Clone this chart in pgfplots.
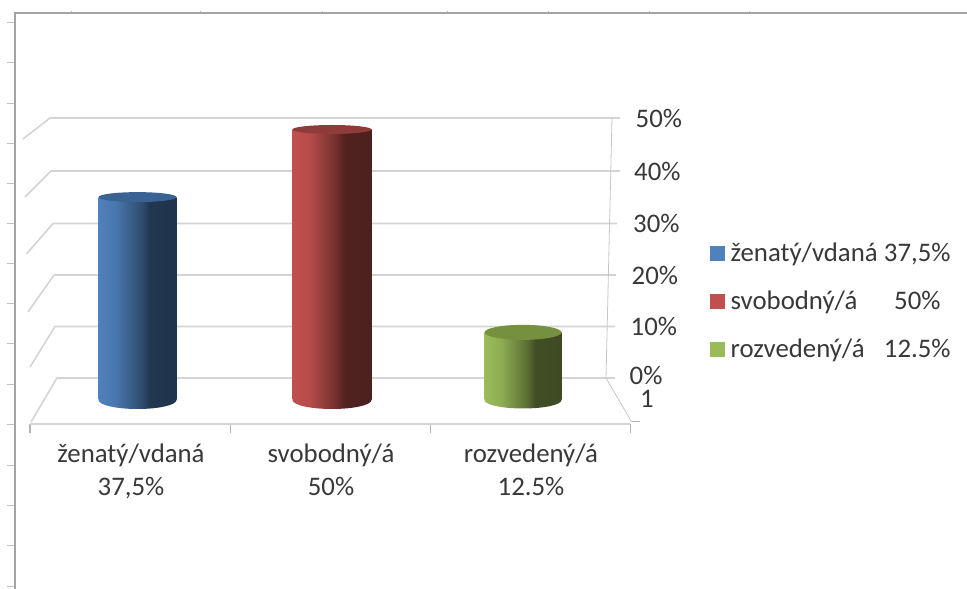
\documentclass[border=0pt]{standalone}
\usepackage{pgfplots}
\pgfplotsset{compat=1.18}
\usepackage{fontspec}
\setmainfont{Carlito}

\definecolor{wallgrid}{HTML}{D4D4D4}
\definecolor{framegray}{HTML}{A4A4A4}
\definecolor{rulergray}{HTML}{C0C0C0}
\definecolor{labeltext}{HTML}{383838}
\definecolor{swatchblue}{HTML}{4F81BD}
\definecolor{swatchred}{HTML}{C0504D}
\definecolor{swatchgreen}{HTML}{9BBB59}
\definecolor{capblue}{HTML}{3A6393}
\definecolor{capred}{HTML}{8E3B3A}
\definecolor{capgreen}{HTML}{75903F}

% Cylinder bodies: TikZ maps the path's width onto 25bp..75bp of these shadings
\pgfdeclarehorizontalshading{cylblue}{100bp}{
  color(0bp)=(swatchblue); color(25bp)=(swatchblue); color(36bp)=(swatchblue!92!black);
  color(53bp)=(swatchblue!58!black); color(58bp)=(swatchblue!42!black);
  color(75bp)=(swatchblue!40!black); color(100bp)=(swatchblue!40!black)}
\pgfdeclarehorizontalshading{cylred}{100bp}{
  color(0bp)=(swatchred); color(25bp)=(swatchred); color(36bp)=(swatchred!95!black);
  color(53bp)=(swatchred!58!black); color(58bp)=(swatchred!42!black);
  color(75bp)=(swatchred!40!black); color(100bp)=(swatchred!40!black)}
\pgfdeclarehorizontalshading{cylgreen}{100bp}{
  color(0bp)=(swatchgreen); color(25bp)=(swatchgreen); color(36bp)=(swatchgreen!92!black);
  color(53bp)=(swatchgreen!58!black); color(58bp)=(swatchgreen!42!black);
  color(75bp)=(swatchgreen!40!black); color(100bp)=(swatchgreen!40!black)}

% Cylinder caps and rounded bases, placed at data points
\pgfdeclareplotmark{capblue}{\pgfsetfillcolor{capblue}\pgfpathellipse{\pgfpointorigin}{\pgfqpoint{39pt}{0pt}}{\pgfqpoint{0pt}{5pt}}\pgfusepathqfill}
\pgfdeclareplotmark{capred}{\pgfsetfillcolor{capred}\pgfpathellipse{\pgfpointorigin}{\pgfqpoint{39.5pt}{0pt}}{\pgfqpoint{0pt}{4.5pt}}\pgfusepathqfill}
\pgfdeclareplotmark{capgreen}{\pgfsetfillcolor{capgreen}\pgfpathellipse{\pgfpointorigin}{\pgfqpoint{38.5pt}{0pt}}{\pgfqpoint{0pt}{7.5pt}}\pgfusepathqfill}
\pgfdeclareplotmark{baseblue}{\path[draw=none,shading=cylblue] (-39pt,0.5pt) -- (-39pt,0pt) arc[start angle=180,end angle=360,x radius=39pt,y radius=9pt] -- (39pt,0.5pt) -- cycle;}
\pgfdeclareplotmark{basered}{\path[draw=none,shading=cylred] (-39.5pt,0.5pt) -- (-39.5pt,0pt) arc[start angle=180,end angle=360,x radius=39.5pt,y radius=9pt] -- (39.5pt,0.5pt) -- cycle;}
\pgfdeclareplotmark{basegreen}{\path[draw=none,shading=cylgreen] (-38.5pt,0.5pt) -- (-38.5pt,0pt) arc[start angle=180,end angle=360,x radius=38.5pt,y radius=8.5pt] -- (38.5pt,0.5pt) -- cycle;}

\pgfplotsset{
  wallline/.style={wallgrid,line width=1.6pt,forget plot},
  cylinder bar/.style={ybar,bar width=#1,bar shift=0pt,draw=none,forget plot},
  cap mark/.style={only marks,mark=#1,forget plot,mark options={draw=none}}
}
\tikzset{scale label/.style={text=labeltext,font=\fontsize{26.8}{26.8}\selectfont,anchor=west,inner sep=0pt}}

\begin{document}
\begin{tikzpicture}
\path[use as bounding box] (0,0) rectangle (967pt,589pt);

% Sheet edge and ruler ticks, in pixel-like units from the top left
\begin{scope}[x=1pt,y=-1pt,shift={(0pt,589pt)}]
  \foreach \yy in {22,62,103,143,183,223,263,303,343,384,424,465,505,545,586}
    \draw[rulergray,line width=0.9pt] (7,\yy) -- (14,\yy);
  \foreach \xx in {71,200,322,447,548,649,749}
    \draw[rulergray,line width=0.6pt] (\xx,11) -- (\xx,13);
  \draw[framegray,line width=2pt] (14.5,589) -- (14.5,13.5) -- (967,13.5);
\end{scope}

% Back wall and its percentage scale
\begin{axis}[
  at={(0pt,0pt)},anchor=south west,scale only axis,
  width=967pt,height=589pt,
  xmin=0,xmax=967,ymin=-40.577,ymax=72.692,
  hide axis,clip=false]
  \addplot[wallline] coordinates {(23,45.96) (50,50) (612,50) (620,50)};
  \addplot[wallline] coordinates {(25,34.8) (51,39.8) (610.5,39.8) (620,39.8)};
  \addplot[wallline] coordinates {(26.5,23.85) (53,29.7) (609.5,29.7) (617,29.7)};
  \addplot[wallline] coordinates {(28,12.7) (54,19.8) (608.5,19.8) (616,19.8)};
  \addplot[wallline] coordinates {(30,2.1) (55,9.9) (607,9.9) (615,9.9)};
  \addplot[wallline] coordinates {(31,-8.46) (57,0) (606,0) (615,0)};
  % Slanted right edge of the wall and the floor's right edge
  \addplot[gray!45,line width=0.8pt,forget plot] coordinates {(612,50) (606,0) (631.5,-8.4)};
  \addplot[gray!60,line width=1pt,forget plot] coordinates {(631.5,-8.4) (640,-8.4)};
  \node[scale label] at (axis cs:635.5,50) {50\%};
  \node[scale label] at (axis cs:634,39.8) {40\%};
  \node[scale label] at (axis cs:633,29.7) {30\%};
  \node[scale label] at (axis cs:631.5,19.8) {20\%};
  \node[scale label] at (axis cs:630.5,9.9) {10\%};
  \node[scale label] at (axis cs:629.5,0.4) {0\%};
  \node[scale label,anchor=center] at (axis cs:647,-4) {1};
\end{axis}

% Cylinders on the floor, category axis in front
\begin{axis}[
  at={(30pt,165pt)},anchor=south west,scale only axis,
  width=600pt,height=321.55pt,
  xmin=-0.5,xmax=2.5,ymin=-4.436,ymax=55,
  clip=false,
  axis x line=bottom,axis y line=none,
  axis line style={-,wallgrid,line width=1.6pt},
  xtick={0,1,2},
  xticklabels={{ženatý/vdaná\\37,5\%},{svobodný/á\\50\%},{rozvedený/á\\12.5\%}},
  major tick length=0pt,
  minor xtick={-0.5,0.5,1.5,2.5},
  minor tick length=9pt,
  tick align=outside,
  minor tick style={gray!60,line width=1pt},
  xticklabel style={align=center,text=labeltext,font=\fontsize{26.8}{33}\selectfont,yshift=-16.5pt,xshift=1pt},
  legend style={draw=none,fill=none,at={(axis cs:2.9,18.3)},anchor=west,
    font=\fontsize{26.8}{26.8}\selectfont,text=labeltext,
    row sep=28pt,inner sep=0pt,
    nodes={inner sep=0pt,anchor=west}},
  legend cell align=left,
  legend image code/.code={\fill[#1] (0pt,-7pt) rectangle (14pt,7pt);},
]
  \addlegendimage{swatchblue}
  \addlegendentry{\hspace{6pt}\makebox[220pt][l]{ženatý/vdaná\hfill 37,5\%}}
  \addlegendimage{swatchred}
  \addlegendentry{\hspace{6pt}\makebox[220pt][l]{svobodný/á\hfill 50\%\hspace{10pt}}}
  \addlegendimage{swatchgreen}
  \addlegendentry{\hspace{6pt}\makebox[220pt][l]{rozvedený/á\hfill 12.5\%}}

  \addplot[cylinder bar=78pt,shading=cylblue] coordinates {(0.0375,37.5)};
  \addplot[cylinder bar=79pt,shading=cylred] coordinates {(1.01,50)};
  \addplot[cylinder bar=77pt,shading=cylgreen] coordinates {(1.965,12.5)};

  \addplot[cap mark=baseblue] coordinates {(0.0375,0)};
  \addplot[cap mark=basered] coordinates {(1.01,0)};
  \addplot[cap mark=basegreen] coordinates {(1.965,0)};

  \addplot[cap mark=capblue] coordinates {(0.0375,37.5)};
  \addplot[cap mark=capred] coordinates {(1.01,50)};
  \addplot[cap mark=capgreen] coordinates {(1.965,12.5)};
\end{axis}
\end{tikzpicture}
\end{document}
